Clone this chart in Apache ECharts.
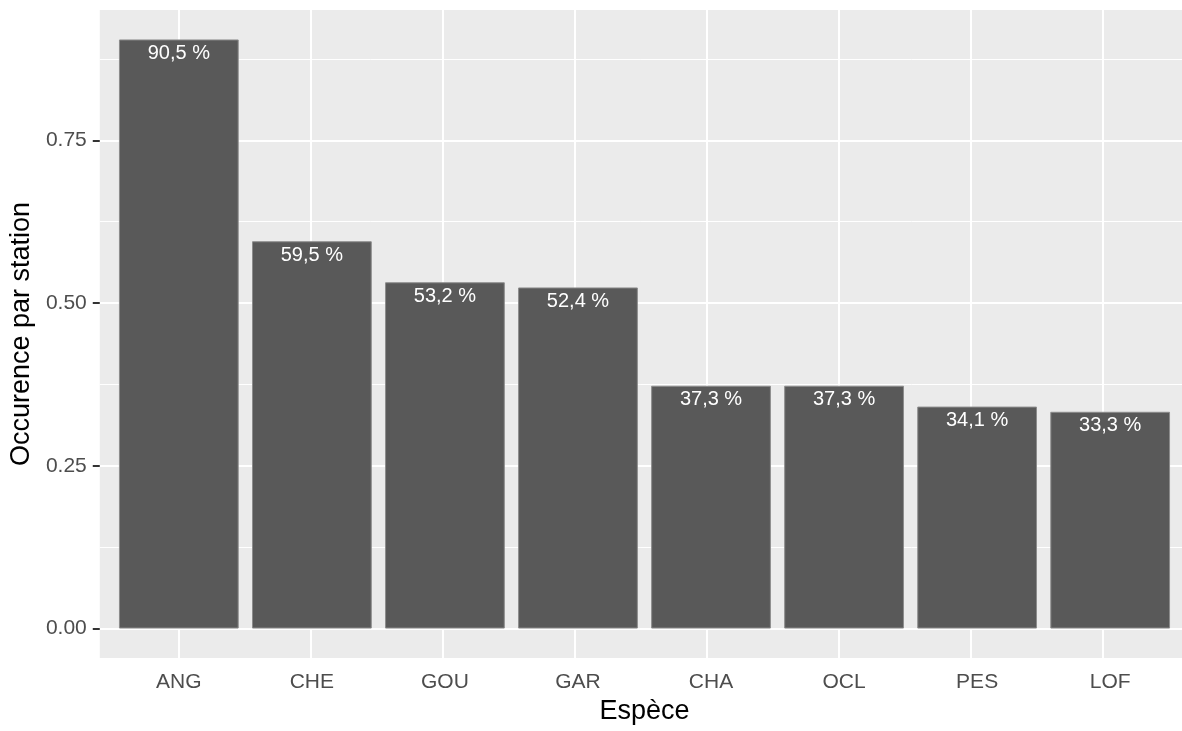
<!DOCTYPE html>
<html>
<head>
<meta charset="utf-8">
<title>Occurence par station</title>
<script src="https://cdn.jsdelivr.net/npm/echarts@6/dist/echarts.min.js"></script>
<style>
  html, body { margin: 0; padding: 0; background: #fff; }
  #chart { width: 1182px; height: 731px; }
</style>
</head>
<body>
<div id="chart"></div>
<script>
// données
const especes = ['ANG', 'CHE', 'GOU', 'GAR', 'CHA', 'OCL', 'PES', 'LOF']
const occurence = [0.905, 0.595, 0.532, 0.524, 0.373, 0.373, 0.341, 0.333]
const yTicks = [0, 0.25, 0.5, 0.75]
const yMinorTicks = [0.125, 0.375, 0.625, 0.875]

// panneau façon ggplot (expansion 5 % en y, 0.6 en x)
const panel = { left: 99, top: 10, width: 1091, height: 648 }
const band = panel.width / (especes.length + 0.2)
const yMax = Math.max(...occurence)
const yMin = -0.05 * yMax
const yTop = yMax + 0.05 * yMax
const xCenters = especes.map((d, i) => i + 1)

const font = 'Liberation Sans, Arial, sans-serif'

let myChart = echarts.init(document.getElementById('chart'))
myChart.setOption({
  animation: false,
  grid: [
    {
      left: panel.left, top: panel.top, width: panel.width, height: panel.height,
      show: true, backgroundColor: '#EBEBEB', borderWidth: 0
    },
    {
      left: panel.left + 0.1 * band, top: panel.top,
      width: band * especes.length, height: panel.height
    }
  ],
  xAxis: [
    {
      // sert uniquement aux lignes verticales de la grille
      gridIndex: 0, type: 'value', min: 0.4, max: especes.length + 0.6,
      axisLine: { show: false },
      axisLabel: { show: false },
      axisTick: { show: false, customValues: xCenters },
      splitLine: { show: true, lineStyle: { color: '#FFFFFF', width: 2 } }
    },
    {
      gridIndex: 1, type: 'category', data: especes,
      axisLine: { show: false },
      axisTick: { alignWithLabel: true, length: 7, lineStyle: { color: '#333333', width: 2 } },
      axisLabel: { color: '#4D4D4D', fontSize: 21, fontFamily: font, margin: 14 },
      splitLine: { show: false },
      name: 'Espèce', nameLocation: 'middle', nameGap: 40,
      nameTextStyle: { color: '#000000', fontSize: 27, fontFamily: font }
    }
  ],
  yAxis: [
    {
      gridIndex: 0, type: 'value', min: yMin, max: yTop,
      axisLine: { show: false },
      axisTick: { show: true, length: 7, customValues: yTicks, lineStyle: { color: '#333333', width: 2 } },
      axisLabel: {
        customValues: yTicks, color: '#4D4D4D', fontSize: 21, fontFamily: font, margin: 13,
        formatter: v => v.toFixed(2)
      },
      splitLine: { show: true, lineStyle: { color: '#FFFFFF', width: 2 } },
      name: 'Occurence par station', nameLocation: 'middle', nameRotate: 90, nameGap: 64,
      nameTextStyle: { color: '#000000', fontSize: 27, fontFamily: font }
    },
    {
      // lignes mineures
      gridIndex: 0, type: 'value', min: yMin, max: yTop, position: 'left',
      axisLine: { show: false },
      axisLabel: { show: false },
      axisTick: { show: false, customValues: yMinorTicks },
      splitLine: { show: true, lineStyle: { color: '#FFFFFF', width: 1 } }
    },
    {
      gridIndex: 1, type: 'value', min: yMin, max: yTop, show: false
    }
  ],
  series: [
    {
      type: 'bar',
      xAxisIndex: 1,
      yAxisIndex: 2,
      data: occurence,
      barWidth: '90%',
      itemStyle: { color: '#595959', borderColor: '#8C8C8C', borderWidth: 1 },
      label: {
        show: true, position: 'insideTop', distance: 4,
        color: '#FFFFFF', fontSize: 20, fontFamily: font,
        formatter: p => (p.value * 100).toFixed(1).replace('.', ',') + ' %'
      }
    }
  ]
})
</script>
</body>
</html>
